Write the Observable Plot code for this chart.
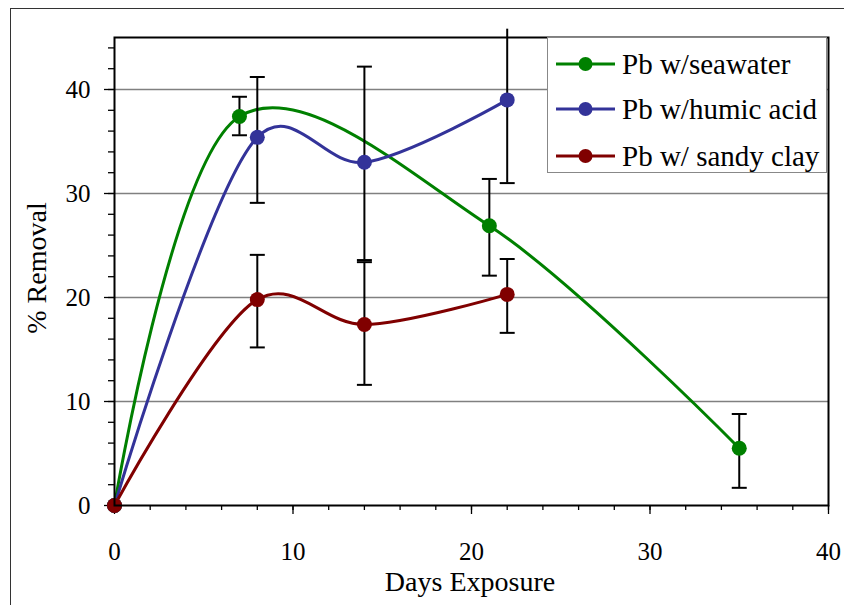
<!DOCTYPE html>
<html>
<head>
<meta charset="utf-8">
<script src="https://cdn.jsdelivr.net/npm/d3@7"></script>
<script src="https://cdn.jsdelivr.net/npm/@observablehq/plot@0.6"></script>
<style>
  html, body { margin: 0; padding: 0; background: #fff; }
  #wrap { position: relative; width: 844px; height: 605px; overflow: hidden; font-family: "Liberation Serif", "Times New Roman", "DejaVu Serif", serif; }
  #outer { position: absolute; left: 10px; top: 8px; width: 900px; height: 700px; border-left: 1.5px solid #333; border-top: 1.5px solid #333; pointer-events: none; }
  .title { position: absolute; font-size: 28px; color: #000; white-space: nowrap; line-height: 1; }
  #legend { position: absolute; left: 547px; top: 37px; width: 280px; height: 136px; background: #fff; border: 1.3px solid #888; box-sizing: border-box; }
  .row { position: absolute; left: 0; height: 30px; display: flex; align-items: center; }
  .row span { font-size: 29px; margin-left: 6px; line-height: 1; }
  svg text { font-family: "Liberation Serif", "Times New Roman", "DejaVu Serif", serif; }
</style>
</head>
<body>
<div id="wrap">
  <div id="outer"></div>
  <div id="chart"></div>
  <div class="title" id="xtitle">Days Exposure</div>
  <div class="title" id="ytitle">% Removal</div>
  <div id="legend"></div>
</div>
<script>
const seriesNames = ["Pb w/seawater", "Pb w/humic acid", "Pb w/ sandy clay"];
const seriesColors = ["#008000", "#333399", "#800000"];

const seawaterDays = [0, 7, 21, 35];
const seawaterVals = [0, 37.4, 26.9, 5.5];
const seawaterLo   = [null, 35.6, 22.1, 1.7];
const seawaterHi   = [null, 39.3, 31.4, 8.8];

const humicDays = [0, 8, 14, 22];
const humicVals = [0, 35.4, 33.0, 39.0];
const humicLo   = [null, 29.1, 23.6, 31.0];
const humicHi   = [null, 41.2, 42.2, 45.8];

const clayDays = [0, 8, 14, 22];
const clayVals = [0, 19.8, 17.4, 20.3];
const clayLo   = [null, 15.2, 11.6, 16.6];
const clayHi   = [null, 24.1, 23.4, 23.7];

const xMajorTicks = [0, 10, 20, 30, 40];
const yMajorTicks = [0, 10, 20, 30, 40];
const xMinorTicks = d3.range(0, 41, 2);
const yMinorTicks = d3.range(0, 45, 2);
const yGrid = [10, 20, 30, 40];

const build = (name, days, vals, lo, hi) => days.map((d, i) => ({series: name, day: d, value: vals[i], lo: lo[i], hi: hi[i]}));
const series = [
  build(seriesNames[0], seawaterDays, seawaterVals, seawaterLo, seawaterHi),
  build(seriesNames[1], humicDays, humicVals, humicLo, humicHi),
  build(seriesNames[2], clayDays, clayVals, clayLo, clayHi)
];
const all = series.flat();
const bars = all.filter(d => d.lo != null);
const caps = bars.flatMap(d => [{series: d.series, day: d.day, v: d.lo}].concat(d.hi < 45 ? [{series: d.series, day: d.day, v: d.hi}] : []));

const capSymbol = { draw(ctx, size) { ctx.moveTo(-7.5, 0); ctx.lineTo(7.5, 0); } };

const marks = [
  Plot.gridY(yGrid, {stroke: "#808080", strokeOpacity: 1, strokeWidth: 1.3}),
  Plot.axisY(yMinorTicks, {tickSize: 6, tickFormat: () => "", stroke: "#000", strokeWidth: 1.3, label: null}),
  Plot.axisY(yMajorTicks, {tickSize: 10, tickPadding: 14, fontSize: 25, label: null, stroke: "#000", strokeWidth: 1.3}),
  Plot.axisX(xMinorTicks, {tickSize: 5, tickFormat: () => "", stroke: "#000", strokeWidth: 1.3, label: null}),
  Plot.axisX(xMajorTicks, {tickSize: 9, tickPadding: 28, fontSize: 25, label: null, stroke: "#000", strokeWidth: 1.3}),
];
series.forEach((s, i) => {
  marks.push(Plot.line(s, {x: "day", y: "value", stroke: seriesColors[i], strokeWidth: 3, curve: "catmull-rom", tension: 0.2}));
});
marks.push(Plot.ruleX(bars, {x: "day", y1: "lo", y2: "hi", stroke: "#000", strokeWidth: 2}));
marks.push(Plot.dot(caps, {x: "day", y: "v", symbol: capSymbol, stroke: "#000", strokeWidth: 2, fill: "none", r: 5}));
series.forEach((s, i) => {
  marks.push(Plot.dot(s, {x: "day", y: "value", fill: seriesColors[i], r: 7.5}));
});
marks.push(Plot.frame({stroke: "#000", strokeWidth: 2}));

const chart = Plot.plot({
  width: 844,
  height: 605,
  marginLeft: 114,
  marginRight: 16,
  marginTop: 37,
  marginBottom: 100,
  style: {color: "#000", background: "transparent", overflow: "visible"},
  x: {domain: [0, 40]},
  y: {domain: [0, 45]},
  marks
});
document.getElementById("chart").appendChild(chart);

// axis titles
const xt = document.getElementById("xtitle");
xt.style.left = "470px"; xt.style.top = "582px"; xt.style.transform = "translate(-50%, -50%)";
const yt = document.getElementById("ytitle");
yt.style.left = "37px"; yt.style.top = "268px"; yt.style.transform = "translate(-50%, -50%) rotate(-90deg)";

// legend
const legend = document.getElementById("legend");
const rowTops = [63, 108, 155];
seriesNames.forEach((name, i) => {
  const row = document.createElement("div");
  row.className = "row";
  row.style.top = (rowTops[i] - 37 - 15) + "px";
  row.style.left = "7px";
  row.innerHTML = `<svg width="61" height="30"><line x1="1" y1="15" x2="60" y2="15" stroke="${seriesColors[i]}" stroke-width="3"/><circle cx="30.5" cy="15" r="7" fill="${seriesColors[i]}"/></svg><span>${name}</span>`;
  legend.appendChild(row);
});
</script>
</body>
</html>
